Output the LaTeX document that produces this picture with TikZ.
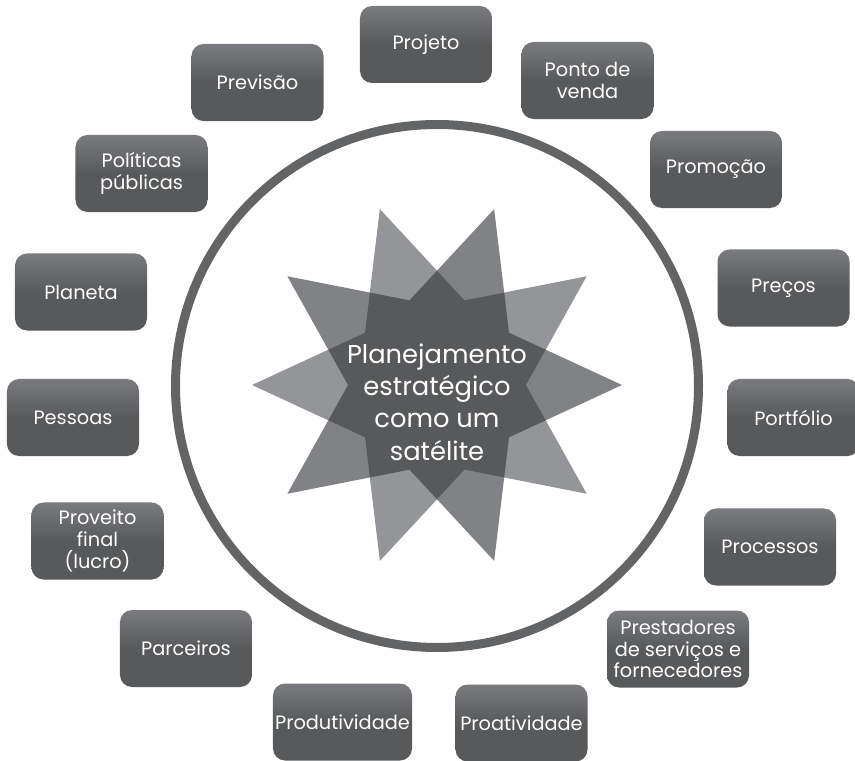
\documentclass[tikz,border=0pt]{standalone}
\usepackage{fontspec}
\setmainfont{Poppins}
\definecolor{caixaclara}{HTML}{7A7B7E}
\definecolor{caixaescura}{HTML}{58595B}
\definecolor{estrelaa}{HTML}{808285}
\definecolor{estrelab}{HTML}{939598}
\definecolor{estrelameio}{HTML}{58595B}
\definecolor{anel}{HTML}{636466}
\begin{document}
\begin{tikzpicture}[x=0.03cm, y=-0.03cm,
	caixa/.style={rounded corners=0.36cm, top color=caixaclara, bottom color=caixaescura,
		middle color=caixaescura, minimum width=3.96cm, minimum height=2.31cm,
		inner sep=1pt, align=center, text=white, font=\fontsize{16.5}{18.5}\selectfont}]
	\useasboundingbox (0,0) rectangle (855,761);
	% anel
	\draw[anel, line width=0.27cm] (437,386) circle[radius=261.5];
	% estrela de dez pontas
	\begin{scope}[shift={(437,385)}]
		\fill[estrelaa] (0:185) -- (36:89) -- (72:185) -- (108:89) -- (144:185)
			-- (180:89) -- (216:185) -- (252:89) -- (288:185) -- (324:89) -- cycle;
		\fill[estrelab] (36:185) -- (72:89) -- (108:185) -- (144:89) -- (180:185)
			-- (216:89) -- (252:185) -- (288:89) -- (324:185) -- (0:89) -- cycle;
		\begin{scope}
			\clip (0:185) -- (36:89) -- (72:185) -- (108:89) -- (144:185)
				-- (180:89) -- (216:185) -- (252:89) -- (288:185) -- (324:89) -- cycle;
			\fill[estrelameio] (36:185) -- (72:89) -- (108:185) -- (144:89) -- (180:185)
				-- (216:89) -- (252:185) -- (288:89) -- (324:185) -- (0:89) -- cycle;
		\end{scope}
	\end{scope}
	\node[text=white, align=center, font=\fontsize{22}{27.5}\selectfont] (centro) at (437,402)
		{Planejamento\\estratégico\\como um\\satélite};
	% caixas em volta
	\node[caixa] (projeto) at (426,44.5) {Projeto};
	\node[caixa] (ponto) at (587.5,80.5) {Ponto de\\venda};
	\node[caixa] (promocao) at (716,169.5) {Promoção};
	\node[caixa] (precos) at (783.5,288) {Preços};
	\node[caixa] (portfolio) at (793.5,417.5) {Portfólio};
	\node[caixa] (processos) at (770,547) {Processos};
	\node[caixa, minimum width=4.26cm] (prestadores) at (678,649)
		{Prestadores\\de serviços e\\fornecedores};
	\node[caixa] (proatividade) at (521.5,723) {Proatividade};
	\node[caixa, minimum width=4.17cm] (produtividade) at (342.5,722) {Produtividade};
	\node[caixa] (parceiros) at (186,648.5) {Parceiros};
	\node[caixa] (proveito) at (97.5,541) {Proveito\\final\\(lucro)};
	\node[caixa] (pessoas) at (73,417.5) {Pessoas};
	\node[caixa] (planeta) at (81,292) {Planeta};
	\node[caixa] (politicas) at (141.5,173.5) {Políticas\\públicas};
	\node[caixa] (previsao) at (257.5,82.5) {Previsão};
\end{tikzpicture}
\end{document}
